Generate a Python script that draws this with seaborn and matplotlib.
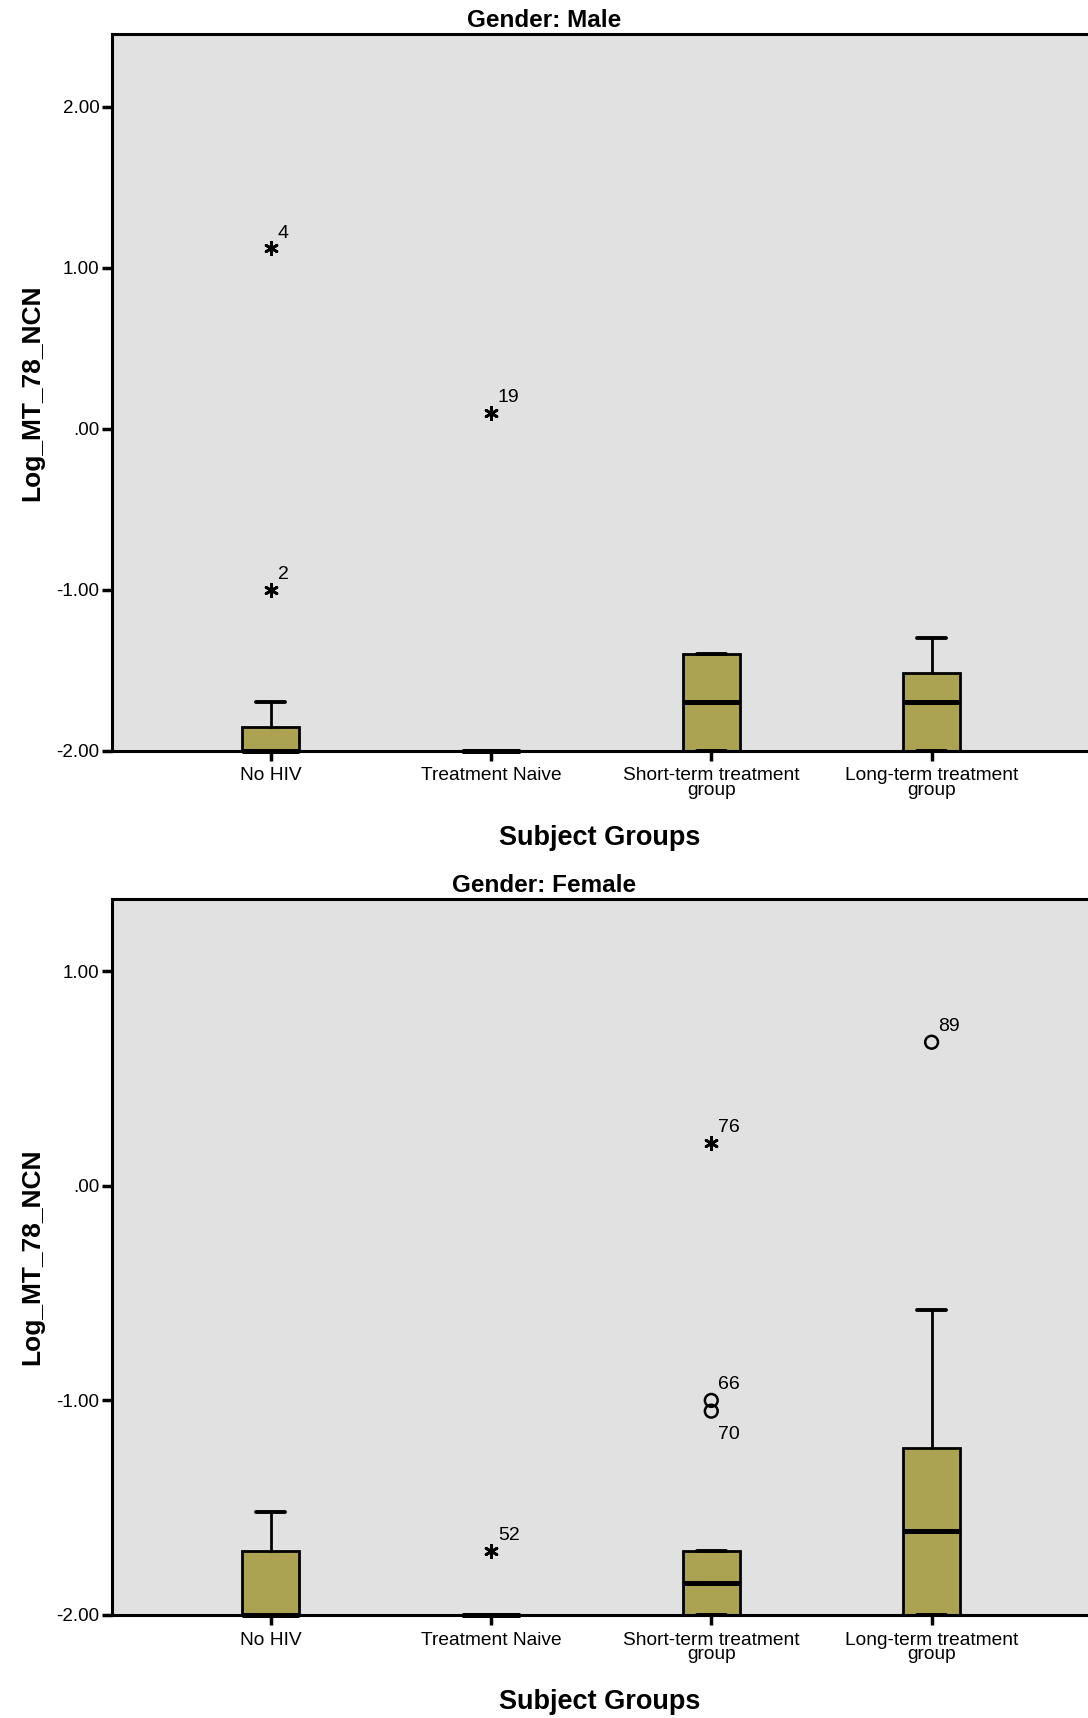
import numpy as np
import pandas as pd
import matplotlib
matplotlib.use('Agg')
import matplotlib.pyplot as plt
import seaborn as sns

# ---- data ----
groups = ['No HIV', 'Treatment Naive', 'Short-term treatment\ngroup', 'Long-term treatment\ngroup']

male_whislo = [-2.00, -2.00, -2.00, -2.00]
male_q1 = [-2.00, -2.00, -2.00, -2.00]
male_med = [-2.00, -2.00, -1.70, -1.70]
male_q3 = [-1.85, -2.00, -1.40, -1.52]
male_whishi = [-1.70, -2.00, -1.40, -1.30]

male_out_group = [0, 0, 1]
male_out_value = [1.12, -1.00, 0.10]
male_out_id = ['4', '2', '19']
male_out_kind = ['extreme', 'extreme', 'extreme']

female_whislo = [-2.00, -2.00, -2.00, -2.00]
female_q1 = [-2.00, -2.00, -2.00, -2.00]
female_med = [-2.00, -2.00, -1.85, -1.61]
female_q3 = [-1.70, -2.00, -1.70, -1.22]
female_whishi = [-1.52, -2.00, -1.70, -0.58]

female_out_group = [1, 2, 2, 2, 3]
female_out_value = [-1.70, 0.20, -1.00, -1.05, 0.67]
female_out_id = ['52', '76', '66', '70', '89']
female_out_kind = ['extreme', 'extreme', 'outlier', 'outlier', 'outlier']

male_yticks = [-2.0, -1.0, 0.0, 1.0, 2.0]
female_yticks = [-2.0, -1.0, 0.0, 1.0]

sns.set_theme(style='white')
plt.rcParams['font.family'] = ['Liberation Sans Narrow', 'Liberation Sans', 'DejaVu Sans']
plt.rcParams['text.color'] = 'black'
plt.rcParams['axes.labelcolor'] = 'black'
plt.rcParams['xtick.color'] = 'black'
plt.rcParams['ytick.color'] = 'black'

BOX = '#aca352'
BG = '#e1e1e1'
WIDE = ['Liberation Sans', 'DejaVu Sans']


def fmt(v):
    s = '%.2f' % v
    if s.startswith('0.'):
        s = s[1:]
    if s == '-0.00':
        s = '.00'
    return s


def panel(ax, title, whislo, q1, med, q3, whishi, og, ov, oid, okind, yticks, ylim):
    stats = []
    for i in range(len(groups)):
        stats.append(dict(whislo=whislo[i], q1=q1[i], med=med[i], q3=q3[i],
                          whishi=whishi[i], fliers=[]))
    ax.bxp(stats, positions=range(len(groups)), widths=0.26, patch_artist=True,
           showfliers=False, capwidths=0.13,
           boxprops=dict(facecolor=BOX, edgecolor='black', linewidth=2.0),
           medianprops=dict(color='black', linewidth=3.6, clip_on=False, zorder=4),
           whiskerprops=dict(color='black', linewidth=2.0),
           capprops=dict(color='black', linewidth=2.8))

    out = pd.DataFrame({'g': og, 'v': ov, 'id': oid, 'kind': okind})
    ext = out[out['kind'] == 'extreme']
    mild = out[out['kind'] == 'outlier']
    sns.scatterplot(data=ext, x='g', y='v', ax=ax, marker=(6, 2, 0), s=80,
                    color='black', linewidth=2.0, zorder=5, legend=False)
    sns.scatterplot(data=mild, x='g', y='v', ax=ax, marker='o', s=85,
                    facecolor='none', edgecolor='black', linewidth=1.8,
                    zorder=5, legend=False)
    for _, r in out.iterrows():
        if r['id'] == '70':
            ax.annotate(r['id'], (r['g'], r['v']), xytext=(5, -11),
                        textcoords='offset points', fontsize=14,
                        family=WIDE, va='top')
        else:
            ax.annotate(r['id'], (r['g'], r['v']), xytext=(5, 5),
                        textcoords='offset points', fontsize=14,
                        family=WIDE, va='bottom')

    ax.set_facecolor(BG)
    ax.set_xlim(-0.72, 3.71)
    ax.set_ylim(*ylim)
    ax.set_xticks(range(len(groups)))
    ax.set_xticklabels(groups, fontsize=13.8, linespacing=0.8)
    ax.set_yticks(yticks)
    ax.set_yticklabels([fmt(v) for v in yticks], fontsize=13.5)
    ax.tick_params(axis='both', direction='out', length=7, width=2.5,
                   color='black', bottom=True, left=True)
    ax.tick_params(axis='x', pad=5)
    ax.tick_params(axis='y', pad=2)
    for side in ['left', 'bottom', 'top']:
        ax.spines[side].set_color('black')
        ax.spines[side].set_linewidth(2.2)
    ax.spines['right'].set_visible(False)
    ax.set_xlabel('Subject Groups', fontsize=19.5, fontweight='bold',
                  family=WIDE, labelpad=19)
    ax.set_ylabel('Log_MT_78_NCN', fontsize=19, fontweight='bold',
                  family=WIDE, labelpad=9)
    # title is centred on the whole figure, not on the axes
    ax.set_title(title, fontsize=17.5, fontweight='bold', pad=5, x=0.443)


fig = plt.figure(figsize=(10.88, 17.18), dpi=100)
ax1 = fig.add_axes([0.103, 0.563, 0.897, 0.417])
ax2 = fig.add_axes([0.103, 0.060, 0.897, 0.417])

panel(ax1, 'Gender: Male', male_whislo, male_q1, male_med, male_q3, male_whishi,
      male_out_group, male_out_value, male_out_id, male_out_kind,
      male_yticks, (-2.0, 2.45))
panel(ax2, 'Gender: Female', female_whislo, female_q1, female_med, female_q3,
      female_whishi, female_out_group, female_out_value, female_out_id,
      female_out_kind, female_yticks, (-2.0, 1.34))

fig.savefig('out.png', dpi=100)
